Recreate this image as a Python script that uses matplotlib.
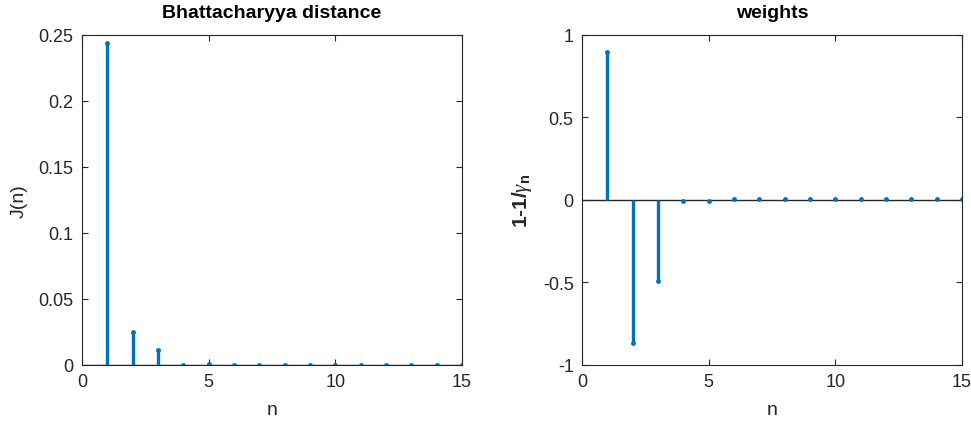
import numpy as np
import matplotlib.pyplot as plt

plt.rcParams['font.family'] = ['Liberation Sans', 'DejaVu Sans']
plt.rcParams['mathtext.fontset'] = 'custom'
plt.rcParams['mathtext.it'] = 'Liberation Serif:italic'
plt.rcParams['mathtext.rm'] = 'Liberation Sans:bold'

n = np.arange(1, 16)
J = [0.244, 0.025, 0.0112, 0.0003, 0.0004, 0.0002, 0.0002, 0.0002,
     0.0002, 0.0003, 0.0002, 0.0002, 0.0002, 0.0002, 0.0002]
weights = [0.897, -0.865, -0.489, -0.006, -0.005, 0.008, 0.003, 0.003,
           0.003, 0.003, 0.003, 0.003, 0.003, 0.003, 0.003]

blue = '#0072BD'
dark = '#262626'

def stem_plot(ax, x, y):
    ml, sl, bl = ax.stem(x, y, basefmt='k-')
    plt.setp(sl, color=blue, linewidth=2.4)
    plt.setp(ml, color=blue, markersize=3.5, markeredgewidth=0)
    bl.set_visible(False)
    ax.axhline(0, color=dark, linewidth=1.0, zorder=1)
    ax.tick_params(direction='in', top=True, right=True, labelsize=13,
                   colors=dark, length=4, pad=6)
    for s in ax.spines.values():
        s.set_color(dark)
        s.set_linewidth(0.8)

fig = plt.figure(figsize=(9.71, 4.27), dpi=100)
ax1 = fig.add_axes([0.0844, 0.1429, 0.3913, 0.7728])
ax2 = fig.add_axes([0.5994, 0.1429, 0.3913, 0.7728])

stem_plot(ax1, n, J)
ax1.set_xlim(0, 15)
ax1.set_ylim(0, 0.25)
ax1.set_xticks([0, 5, 10, 15])
ax1.set_yticks([0, 0.05, 0.1, 0.15, 0.2, 0.25])
ax1.set_yticklabels(['0', '0.05', '0.1', '0.15', '0.2', '0.25'])
ax1.set_xlabel('n', fontsize=14, color=dark, labelpad=8)
ax1.set_ylabel('J(n)', fontsize=14, color=dark, labelpad=8)
ax1.set_title('Bhattacharyya distance', fontsize=14, fontweight='bold', pad=13)

stem_plot(ax2, n, weights)
ax2.set_xlim(0, 15)
ax2.set_ylim(-1, 1)
ax2.set_xticks([0, 5, 10, 15])
ax2.set_yticks([-1, -0.5, 0, 0.5, 1])
ax2.set_yticklabels(['-1', '-0.5', '0', '0.5', '1'])
ax2.set_xlabel('n', fontsize=14, color=dark, labelpad=8)
ax2.set_ylabel(r'1-1/$\gamma_{\mathrm{n}}$', fontsize=15, color=dark,
               fontweight='bold', labelpad=6)
ax2.set_title('weights', fontsize=14, fontweight='bold', pad=13)

fig.savefig('out.png', dpi=100)
